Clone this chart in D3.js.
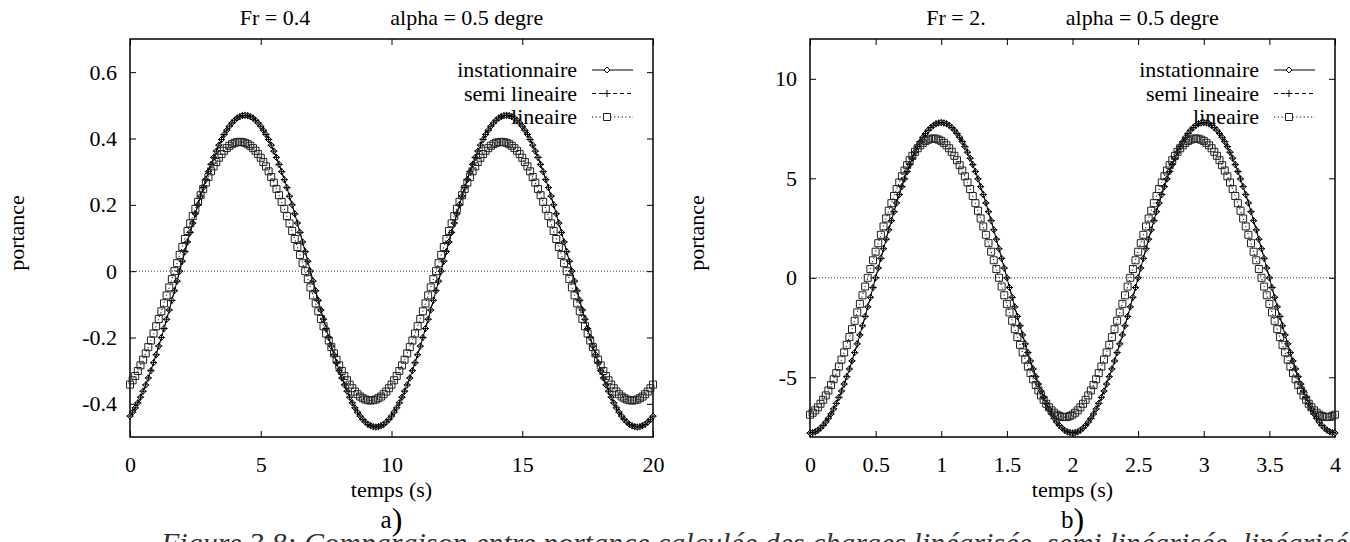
<!DOCTYPE html>
<html>
<head>
<meta charset="utf-8">
<script src="https://cdn.jsdelivr.net/npm/d3@7"></script>
<style>
    body { margin: 0; background: #fff; }
    svg { display: block; }
    svg text { font-family: "Liberation Serif", "DejaVu Serif", serif; }
</style>
</head>
<body>
<svg id="fig" width="1350" height="542"></svg>
<script>
// ---- data ----
// panel a) Fr = 0.4 : one sample every 0.1 s from 0 to 20 s
const stepA = 0.1;
const instA = [
    -0.437,-0.425,-0.412,-0.397,-0.380,-0.362,-0.343,-0.322,-0.300,-0.276,-0.252,-0.226,-0.200,-0.173,-0.145,-0.117,-0.088,-0.059,-0.030,0,
    0.030,0.059,0.088,0.117,0.145,0.173,0.200,0.226,0.252,0.276,0.300,0.322,0.343,0.362,0.380,0.397,0.412,0.425,0.437,0.447,0.455,0.462,0.466,0.469,0.470,
    0.469,0.466,0.462,0.455,0.447,0.437,0.425,0.412,0.397,0.380,0.362,0.343,0.322,0.300,0.276,0.252,0.226,0.200,0.173,0.145,0.117,0.088,0.059,0.030,0,
    -0.030,-0.059,-0.088,-0.117,-0.145,-0.173,-0.200,-0.226,-0.252,-0.276,-0.300,-0.322,-0.343,-0.362,-0.380,-0.397,-0.412,-0.425,-0.437,-0.447,-0.455,-0.462,-0.466,-0.469,-0.470,
    -0.469,-0.466,-0.462,-0.455,-0.447,-0.437,-0.425,-0.412,-0.397,-0.380,-0.362,-0.343,-0.322,-0.300,-0.276,-0.252,-0.226,-0.200,-0.173,-0.145,-0.117,-0.088,-0.059,-0.030,0,
    0.030,0.059,0.088,0.117,0.145,0.173,0.200,0.226,0.252,0.276,0.300,0.322,0.343,0.362,0.380,0.397,0.412,0.425,0.437,0.447,0.455,0.462,0.466,0.469,0.470,
    0.469,0.466,0.462,0.455,0.447,0.437,0.425,0.412,0.397,0.380,0.362,0.343,0.322,0.300,0.276,0.252,0.226,0.200,0.173,0.145,0.117,0.088,0.059,0.030,0,
    -0.030,-0.059,-0.088,-0.117,-0.145,-0.173,-0.200,-0.226,-0.252,-0.276,-0.300,-0.322,-0.343,-0.362,-0.380,-0.397,-0.412,-0.425,-0.437,-0.447,-0.455,-0.462,-0.466,-0.469,-0.470,
    -0.469,-0.466,-0.462,-0.455,-0.447,-0.437
];
// the semi linear curve sits right on top of the unsteady one
const semiA = instA;
const linA = [
    -0.342,-0.329,-0.316,-0.301,-0.284,-0.267,-0.248,-0.229,-0.209,-0.188,-0.166,-0.144,-0.121,-0.097,-0.073,-0.049,-0.024,0,
    0.024,0.049,0.073,0.097,0.121,0.144,0.166,0.188,0.209,0.229,0.248,0.267,0.284,0.301,0.316,0.329,0.342,0.353,0.363,0.371,0.378,0.383,0.387,0.389,0.390,
    0.389,0.387,0.383,0.378,0.371,0.363,0.353,0.342,0.329,0.316,0.301,0.284,0.267,0.248,0.229,0.209,0.188,0.166,0.144,0.121,0.097,0.073,0.049,0.024,0,
    -0.024,-0.049,-0.073,-0.097,-0.121,-0.144,-0.166,-0.188,-0.209,-0.229,-0.248,-0.267,-0.284,-0.301,-0.316,-0.329,-0.342,-0.353,-0.363,-0.371,-0.378,-0.383,-0.387,-0.389,-0.390,
    -0.389,-0.387,-0.383,-0.378,-0.371,-0.363,-0.353,-0.342,-0.329,-0.316,-0.301,-0.284,-0.267,-0.248,-0.229,-0.209,-0.188,-0.166,-0.144,-0.121,-0.097,-0.073,-0.049,-0.024,0,
    0.024,0.049,0.073,0.097,0.121,0.144,0.166,0.188,0.209,0.229,0.248,0.267,0.284,0.301,0.316,0.329,0.342,0.353,0.363,0.371,0.378,0.383,0.387,0.389,0.390,
    0.389,0.387,0.383,0.378,0.371,0.363,0.353,0.342,0.329,0.316,0.301,0.284,0.267,0.248,0.229,0.209,0.188,0.166,0.144,0.121,0.097,0.073,0.049,0.024,0,
    -0.024,-0.049,-0.073,-0.097,-0.121,-0.144,-0.166,-0.188,-0.209,-0.229,-0.248,-0.267,-0.284,-0.301,-0.316,-0.329,-0.342,-0.353,-0.363,-0.371,-0.378,-0.383,-0.387,-0.389,-0.390,
    -0.389,-0.387,-0.383,-0.378,-0.371,-0.363,-0.353,-0.342
];

// panel b) Fr = 2. : one sample every 0.02 s from 0 to 4 s
const stepB = 0.02;
const instB = [
    -7.80,-7.78,-7.74,-7.66,-7.55,-7.42,-7.25,-7.06,-6.84,-6.59,-6.31,-6.01,-5.69,-5.34,-4.97,-4.58,-4.18,-3.76,-3.32,-2.87,-2.41,-1.94,-1.46,-0.98,-0.49,0,
    0.49,0.98,1.46,1.94,2.41,2.87,3.32,3.76,4.18,4.58,4.97,5.34,5.69,6.01,6.31,6.59,6.84,7.06,7.25,7.42,7.55,7.66,7.74,7.78,7.80,
    7.78,7.74,7.66,7.55,7.42,7.25,7.06,6.84,6.59,6.31,6.01,5.69,5.34,4.97,4.58,4.18,3.76,3.32,2.87,2.41,1.94,1.46,0.98,0.49,0,
    -0.49,-0.98,-1.46,-1.94,-2.41,-2.87,-3.32,-3.76,-4.18,-4.58,-4.97,-5.34,-5.69,-6.01,-6.31,-6.59,-6.84,-7.06,-7.25,-7.42,-7.55,-7.66,-7.74,-7.78,-7.80,
    -7.78,-7.74,-7.66,-7.55,-7.42,-7.25,-7.06,-6.84,-6.59,-6.31,-6.01,-5.69,-5.34,-4.97,-4.58,-4.18,-3.76,-3.32,-2.87,-2.41,-1.94,-1.46,-0.98,-0.49,0,
    0.49,0.98,1.46,1.94,2.41,2.87,3.32,3.76,4.18,4.58,4.97,5.34,5.69,6.01,6.31,6.59,6.84,7.06,7.25,7.42,7.55,7.66,7.74,7.78,7.80,
    7.78,7.74,7.66,7.55,7.42,7.25,7.06,6.84,6.59,6.31,6.01,5.69,5.34,4.97,4.58,4.18,3.76,3.32,2.87,2.41,1.94,1.46,0.98,0.49,0,
    -0.49,-0.98,-1.46,-1.94,-2.41,-2.87,-3.32,-3.76,-4.18,-4.58,-4.97,-5.34,-5.69,-6.01,-6.31,-6.59,-6.84,-7.06,-7.25,-7.42,-7.55,-7.66,-7.74,-7.78,-7.80
];
const semiB = instB;
const linB = [
    -6.88,-6.78,-6.66,-6.51,-6.33,-6.13,-5.91,-5.66,-5.39,-5.10,-4.79,-4.46,-4.11,-3.75,-3.37,-2.98,-2.58,-2.16,-1.74,-1.31,-0.88,-0.44,0,
    0.44,0.88,1.31,1.74,2.16,2.58,2.98,3.37,3.75,4.11,4.46,4.79,5.10,5.39,5.66,5.91,6.13,6.33,6.51,6.66,6.78,6.88,6.94,6.99,7.00,
    6.99,6.94,6.88,6.78,6.66,6.51,6.33,6.13,5.91,5.66,5.39,5.10,4.79,4.46,4.11,3.75,3.37,2.98,2.58,2.16,1.74,1.31,0.88,0.44,0,
    -0.44,-0.88,-1.31,-1.74,-2.16,-2.58,-2.98,-3.37,-3.75,-4.11,-4.46,-4.79,-5.10,-5.39,-5.66,-5.91,-6.13,-6.33,-6.51,-6.66,-6.78,-6.88,-6.94,-6.99,-7.00,
    -6.99,-6.94,-6.88,-6.78,-6.66,-6.51,-6.33,-6.13,-5.91,-5.66,-5.39,-5.10,-4.79,-4.46,-4.11,-3.75,-3.37,-2.98,-2.58,-2.16,-1.74,-1.31,-0.88,-0.44,0,
    0.44,0.88,1.31,1.74,2.16,2.58,2.98,3.37,3.75,4.11,4.46,4.79,5.10,5.39,5.66,5.91,6.13,6.33,6.51,6.66,6.78,6.88,6.94,6.99,7.00,
    6.99,6.94,6.88,6.78,6.66,6.51,6.33,6.13,5.91,5.66,5.39,5.10,4.79,4.46,4.11,3.75,3.37,2.98,2.58,2.16,1.74,1.31,0.88,0.44,0,
    -0.44,-0.88,-1.31,-1.74,-2.16,-2.58,-2.98,-3.37,-3.75,-4.11,-4.46,-4.79,-5.10,-5.39,-5.66,-5.91,-6.13,-6.33,-6.51,-6.66,-6.78,-6.88,-6.94,-6.99,-7.00,
    -6.99,-6.94,-6.88
];

const xTicksA = [0, 5, 10, 15, 20];
const yTicksA = [-0.4, -0.2, 0, 0.2, 0.4, 0.6];
const xTicksB = [0, 0.5, 1, 1.5, 2, 2.5, 3, 3.5, 4];
const yTicksB = [-5, 0, 5, 10];
const seriesNames = ["instationnaire", "semi lineaire", "lineaire"];
const captionText = "Figure 3.8: Comparaison entre portance calculée des charges linéarisée, semi linéarisée, linéarisée de la";

// ---- drawing ----
const svg = d3.select("#fig");
const fs = 22;

// marker shapes (gnuplot-like)
const markers = {
    diamond: "M0,-3L3,0L0,3L-3,0Z",
    plus: "M-3.5,0H3.5M0,-3.5V3.5",
    square: "M-3.5,-3.5H3.5V3.5H-3.5Z"
};
const styles = [
    { dash: null, marker: markers.diamond, stroke: "#000" },
    { dash: "4,3", marker: markers.plus, stroke: "#000" },
    { dash: "1.2,2.5", marker: markers.square, stroke: "#222" }
];

function drawPanel(p) {
    const x = d3.scaleLinear().domain(p.xDomain).range([p.left, p.right]);
    const y = d3.scaleLinear().domain(p.yDomain).range([p.bottom, p.top]);
    const g = svg.append("g");
    const tick = 6;

    // dotted zero line
    g.append("line")
        .attr("x1", p.left).attr("x2", p.right)
        .attr("y1", y(0)).attr("y2", y(0))
        .attr("stroke", "#444")
        .attr("stroke-width", 1)
        .attr("stroke-dasharray", "1,2");

    // ticks on all four sides, pointing inward
    g.append("g")
        .attr("transform", `translate(0,${p.bottom})`)
        .call(d3.axisBottom(x).tickValues(p.xTicks).tickSizeInner(-tick).tickSizeOuter(0).tickPadding(19).tickFormat(d => String(d)));
    g.append("g")
        .attr("transform", `translate(0,${p.top})`)
        .call(d3.axisTop(x).tickValues(p.xTicks).tickSizeInner(-tick).tickSizeOuter(0).tickFormat(""));
    g.append("g")
        .attr("transform", `translate(${p.left},0)`)
        .call(d3.axisLeft(y).tickValues(p.yTicks).tickSizeInner(-tick).tickSizeOuter(0).tickPadding(13).tickFormat(d => String(d)));
    g.append("g")
        .attr("transform", `translate(${p.right},0)`)
        .call(d3.axisRight(y).tickValues(p.yTicks).tickSizeInner(-tick).tickSizeOuter(0).tickFormat(""));

    g.selectAll(".domain").remove();
    g.selectAll(".tick line").attr("stroke", "#000").attr("stroke-width", 1);
    g.selectAll(".tick text")
        .attr("font-size", fs)
        .attr("fill", "#000");

    // frame
    g.append("rect")
        .attr("x", p.left).attr("y", p.top)
        .attr("width", p.right - p.left).attr("height", p.bottom - p.top)
        .attr("fill", "none")
        .attr("stroke", "#000")
        .attr("stroke-width", 1.5);

    // title
    const title = g.append("text")
        .attr("x", (p.left + p.right) / 2)
        .attr("y", 25)
        .attr("text-anchor", "middle")
        .attr("font-size", fs);
    title.append("tspan").text(p.fr);
    title.append("tspan").attr("dx", 80).text("alpha = 0.5 degre");

    // axis labels
    g.append("text")
        .attr("x", (p.left + p.right) / 2)
        .attr("y", 497)
        .attr("text-anchor", "middle")
        .attr("font-size", fs)
        .text("temps (s)");
    g.append("text")
        .attr("transform", `translate(${p.left - 106},233) rotate(-90)`)
        .attr("text-anchor", "middle")
        .attr("font-size", fs)
        .text("portance");

    // a) / b)
    const tag = g.append("text")
        .attr("x", (p.left + p.right) / 2)
        .attr("y", 528)
        .attr("text-anchor", "middle")
        .attr("font-size", 25);
    tag.append("tspan").text(p.tag);
    tag.append("tspan").attr("font-size", 32).attr("dy", 2).text(")");

    // legend (drawn before curves, curves overlap the text as in the original)
    const keyRight = p.right - 76;
    seriesNames.forEach((name, i) => {
        const yy = 70 + i * 23.5;
        const st = styles[i];
        g.append("text")
            .attr("x", keyRight)
            .attr("y", yy)
            .attr("dy", "0.33em")
            .attr("text-anchor", "end")
            .attr("font-size", fs)
            .text(name);
        g.append("line")
            .attr("x1", keyRight + 15).attr("x2", keyRight + 56)
            .attr("y1", yy).attr("y2", yy)
            .attr("stroke", "#000")
            .attr("stroke-width", 1)
            .attr("stroke-dasharray", st.dash);
        g.append("path")
            .attr("d", st.marker)
            .attr("transform", `translate(${keyRight + 30},${yy})`)
            .attr("fill", "#fff")
            .attr("stroke", st.stroke)
            .attr("stroke-width", 1);
    });

    // curves
    p.series.forEach((vals, i) => {
        const st = styles[i];
        const line = d3.line()
            .x((d, j) => x(j * p.step))
            .y(d => y(d));
        g.append("path")
            .datum(vals)
            .attr("d", line)
            .attr("fill", "none")
            .attr("stroke", "#000")
            .attr("stroke-width", 1)
            .attr("stroke-dasharray", st.dash);
        g.append("g")
            .selectAll("path")
            .data(vals)
            .join("path")
            .attr("d", st.marker)
            .attr("transform", (d, j) => `translate(${x(j * p.step)},${y(d)})`)
            .attr("fill", i === 2 ? "none" : "#fff")
            .attr("stroke", st.stroke)
            .attr("stroke-width", 1);
    });
}

drawPanel({
    left: 130, right: 653, top: 39, bottom: 437,
    xDomain: [0, 20], yDomain: [-0.5, 0.7],
    xTicks: xTicksA, yTicks: yTicksA,
    step: stepA, series: [instA, semiA, linA],
    fr: "Fr = 0.4", tag: "a"
});
drawPanel({
    left: 810, right: 1335, top: 39, bottom: 437,
    xDomain: [0, 4], yDomain: [-8, 12],
    xTicks: xTicksB, yTicks: yTicksB,
    step: stepB, series: [instB, semiB, linB],
    fr: "Fr = 2.", tag: "b"
});

// figure caption, cut by the bottom edge
svg.append("text")
    .attr("x", 161)
    .attr("y", 553)
    .attr("font-size", 30)
    .attr("font-style", "italic")
    .attr("fill", "#333")
    .text(captionText);
</script>
</body>
</html>
